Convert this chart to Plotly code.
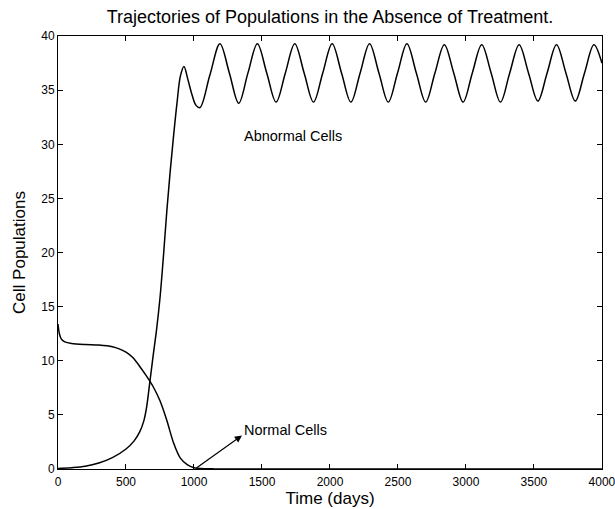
import plotly.graph_objects as go

# Time axis (days) and population readings for each cell type
abnormal_t = [0, 100, 200, 300, 400, 500, 560, 600, 630, 652, 676, 700, 725, 750,
              775, 800, 825, 850, 875, 900, 926, 955, 985, 1015, 1044,
              1117, 1191, 1260, 1329, 1397, 1466, 1535, 1604, 1672, 1741, 1810,
              1879, 1947, 2016, 2085, 2154, 2222, 2291, 2360, 2429, 2497, 2566,
              2635, 2704, 2772, 2841, 2910, 2979, 3047, 3116, 3185, 3254, 3322,
              3391, 3460, 3529, 3597, 3666, 3735, 3804, 3872, 3941, 4000]
abnormal_v = [0.05, 0.12, 0.25, 0.55, 1.05, 1.85, 2.6, 3.4, 4.4, 5.75, 8.1, 10.5,
              12.9, 15.8, 19.6, 23.8, 27.5, 30.8, 33.8, 36.3, 37.2, 36.0, 34.6,
              33.6, 33.4,
              36.4, 39.3, 36.6, 33.8, 36.6, 39.3, 36.6, 33.9, 36.6, 39.3, 36.6,
              33.9, 36.6, 39.3, 36.6, 33.9, 36.6, 39.3, 36.6, 33.9, 36.6, 39.3,
              36.6, 33.9, 36.6, 39.2, 36.6, 33.9, 36.6, 39.2, 36.6, 33.9, 36.6,
              39.2, 36.6, 34.0, 36.6, 39.2, 36.6, 34.0, 36.6, 39.2, 37.5]

normal_t = [0, 10, 25, 50, 100, 200, 300, 400, 450, 500, 550, 600, 650, 700,
            750, 800, 850, 900, 950, 1000, 1050, 1150, 1500, 4000]
normal_v = [13.4, 12.5, 12.0, 11.75, 11.6, 11.5, 11.45, 11.3, 11.1, 10.8, 10.3,
            9.5, 8.6, 7.6, 6.3, 4.5, 2.4, 1.0, 0.4, 0.12, 0.04, 0.01, 0.0, 0.0]

x_ticks = [0, 500, 1000, 1500, 2000, 2500, 3000, 3500, 4000]
y_ticks = [0, 5, 10, 15, 20, 25, 30, 35, 40]

FONT = "Liberation Sans, Arial, Helvetica, sans-serif"

fig = go.Figure()
fig.add_trace(go.Scatter(x=abnormal_t, y=abnormal_v, mode="lines",
                         line=dict(color="black", width=1.5, shape="spline", smoothing=1.0),
                         name="Abnormal Cells", showlegend=False))
fig.add_trace(go.Scatter(x=normal_t, y=normal_v, mode="lines",
                         line=dict(color="black", width=1.5, shape="spline", smoothing=0.8),
                         name="Normal Cells", showlegend=False))

axis_common = dict(showgrid=False, zeroline=False, showline=True, linecolor="black",
                   linewidth=1, mirror="allticks", ticks="inside", ticklen=5,
                   tickcolor="black", tickwidth=1, ticklabeloverflow="allow",
                   automargin=False,
                   tickfont=dict(family=FONT, size=12, color="black"))

fig.update_xaxes(range=[0, 4000.5], tickvals=x_ticks, ticktext=[str(v) for v in x_ticks],
                 ticklabelstandoff=2,
                 title=dict(text="Time (days)", font=dict(family=FONT, size=17, color="black"),
                            standoff=1),
                 **axis_common)
fig.update_yaxes(range=[0, 40.01], tickvals=y_ticks, ticktext=[str(v) for v in y_ticks],
                 title=dict(text="Cell Populations", font=dict(family=FONT, size=17, color="black"),
                            standoff=11),
                 **axis_common)

fig.add_annotation(x=1728, y=30.8, text="Abnormal Cells", showarrow=False,
                   font=dict(family=FONT, size=14.5, color="black"))
fig.add_annotation(x=1353, y=3.1, ax=1007, ay=0.0, axref="x", ayref="y", text="",
                   showarrow=True, arrowhead=2, arrowsize=1.2, arrowwidth=1.2,
                   arrowcolor="black")
fig.add_annotation(x=1352, y=3.6, text="Normal Cells", showarrow=False, xanchor="left",
                   font=dict(family=FONT, size=14.5, color="black"))

fig.update_layout(
    width=615, height=509,
    margin=dict(l=58, r=13, t=36, b=40, autoexpand=False),
    paper_bgcolor="white", plot_bgcolor="white",
    title=dict(text="Trajectories of Populations in the Absence of Treatment.",
               x=0.5, xref="paper", y=1 - 17 / 509, yanchor="middle",
               font=dict(family=FONT, size=18, color="black")),
)

fig.write_html("out.html")
